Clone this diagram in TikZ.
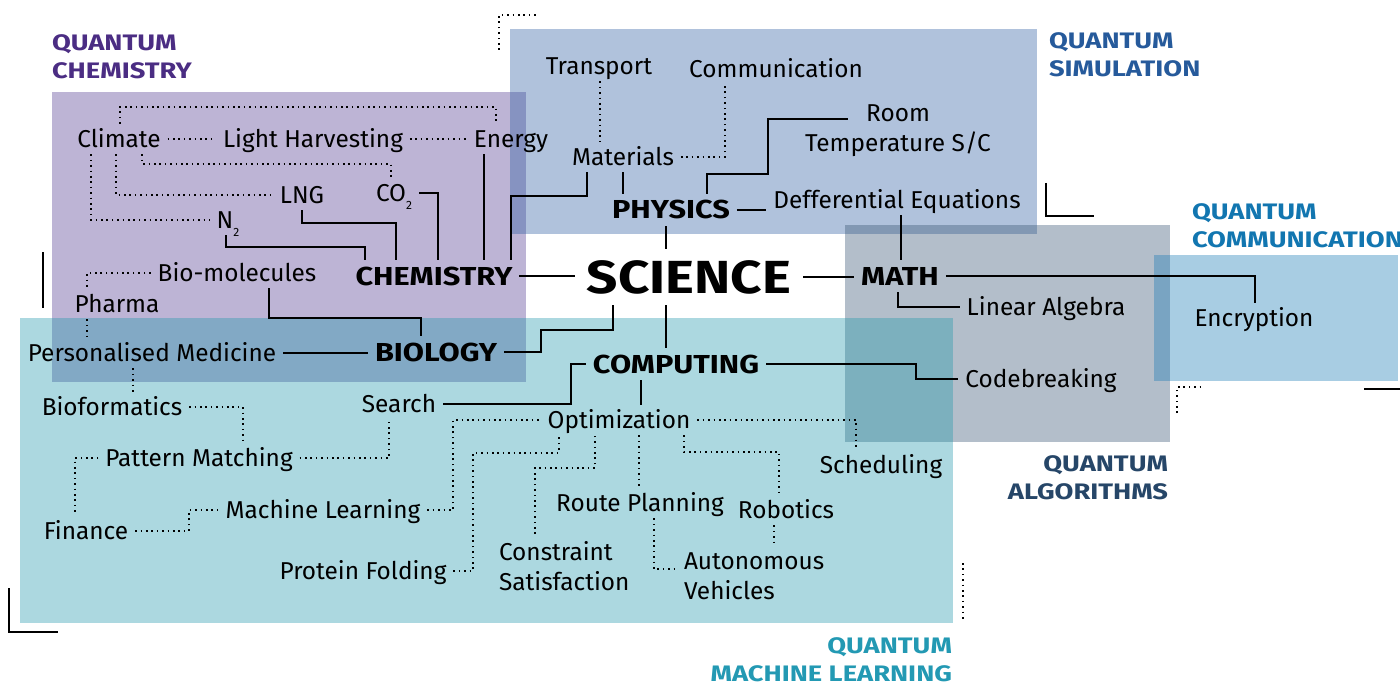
\documentclass[tikz,border=0pt]{standalone}
\usepackage{fontspec}
\setmainfont{Fira Sans}
\newfontfamily\headfont[FakeStretch=1.18]{Fira Sans}
\newfontfamily\titlefont[FakeStretch=1.22]{Fira Sans}

% zone fills
\definecolor{chemc}{RGB}{76,52,140}
\definecolor{physc}{RGB}{40,90,160}
\definecolor{mathc}{RGB}{50,80,110}
\definecolor{commc}{RGB}{20,120,180}
\definecolor{mlc}{RGB}{30,150,170}
% zone titles
\definecolor{tchem}{RGB}{75,45,131}
\definecolor{tsim}{RGB}{38,90,155}
\definecolor{tcomm}{RGB}{18,118,176}
\definecolor{talg}{RGB}{38,70,104}
\definecolor{tml}{RGB}{35,153,179}

\begin{document}
\begin{tikzpicture}[x=0.5pt,y=-0.5pt,
  conn/.style={line width=0.75pt, draw=black},
  dots/.style={line width=0.8pt, dash pattern=on 0.8pt off 1.9pt, draw=black},
  lab/.style={inner sep=0pt, outer sep=3.5pt, font=\fontsize{12.2}{15}\selectfont, text=black},
  one/.style={lab, text height=8.4pt, text depth=0pt},
  main/.style={inner sep=0pt, outer sep=3.5pt, font=\headfont\bfseries\fontsize{13}{15}\selectfont, text height=9pt, text depth=0pt, text=black},
  core/.style={inner sep=0pt, outer sep=6pt, font=\headfont\bfseries\fontsize{23.2}{26}\selectfont, text height=16pt, text depth=0pt, text=black},
  ttl/.style={inner sep=0pt, outer sep=0pt, font=\titlefont\bfseries\fontsize{11.2}{14}\selectfont},
  zone/.style={fill opacity=0.37, draw=none}
]
\useasboundingbox (0,0) rectangle (1400,684);

% coloured zones
\fill[chemc, zone] (52,92) rectangle (526,382);
\fill[physc, zone] (510,29) rectangle (1037,234);
\fill[mathc, zone] (845,225) rectangle (1170,442);
\fill[mlc, zone] (20,318) rectangle (953,623);
\fill[commc, zone] (1154,255) rectangle (1398,381);

% zone titles
\node[ttl, text=tchem, anchor=north west, align=left] (tq1) at (52,35) {QUANTUM\\CHEMISTRY};
\node[ttl, text=tsim, anchor=north west, align=left] (tq2) at (1049,33) {QUANTUM\\SIMULATION};
\node[ttl, text=tcomm, anchor=north west, align=left] (tq3) at (1192,204) {QUANTUM\\COMMUNICATION};
\node[ttl, text=talg, anchor=north east, align=right] (tq4) at (1168,456) {QUANTUM\\ALGORITHMS};
\node[ttl, text=tml, anchor=north east, align=right] (tq5) at (952,638) {QUANTUM\\MACHINE LEARNING};

% main fields
\node[core] (sci) at (689,277) {SCIENCE};
\node[main] (chem) at (434,276) {CHEMISTRY};
\node[main] (physics) at (671,210) {PHYSICS};
\node[main] (math) at (900,276) {MATH};
\node[main] (bio) at (436,352) {BIOLOGY};
\node[main] (computing) at (676,364) {COMPUTING};

% chemistry / biology topics
\node[one] (climate) at (119,139) {Climate};
\node[one] (lightharv) at (313,139) {Light Harvesting};
\node[one] (energy) at (511,139) {Energy};
\node[one] (lng) at (302,195) {LNG};
\node[one] (co2) at (394,193) {CO\raisebox{-4pt}{\fontsize{6}{6}\selectfont 2}};
\node[one] (n2) at (228,220) {N\raisebox{-4pt}{\fontsize{6}{6}\selectfont 2}};
\node[one] (biomol) at (237,273) {Bio-molecules};
\node[one] (pharma) at (117,304) {Pharma};
\node[one] (persmed) at (152,353) {Personalised Medicine};

% physics topics
\node[one] (transport) at (599,66) {Transport};
\node[one] (comm) at (776,69) {Communication};
\node[lab, anchor=north, align=center] (roomt) at (898,98) {Room\\Temperature S/C};
\coordinate (roomin) at (848,119);
\node[one] (materials) at (623,157) {Materials};
\node[one] (diffeq) at (897,200) {Defferential Equations};

% math topics
\node[one] (linalg) at (1046,307) {Linear Algebra};
\node[one] (codebreak) at (1041,379) {Codebreaking};
\node[one] (encrypt) at (1254,318) {Encryption};

% computing topics
\node[one] (search) at (399,404) {Search};
\node[one] (optim) at (619,420) {Optimization};
\node[one] (sched) at (881,465) {Scheduling};
\node[one] (route) at (640,503) {Route Planning};
\node[one] (robotics) at (786,510) {Robotics};
\node[lab, anchor=north west, align=left] (constr) at (492,534) {Constraint\\Satisfaction};
\node[lab, anchor=north west, align=left] (auton) at (677,546) {Autonomous\\Vehicles};
\node[one] (protein) at (363,571) {Protein Folding};
\node[one] (ml) at (323,510) {Machine Learning};
\node[one] (finance) at (86,531) {Finance};
\node[one] (pattern) at (199,458) {Pattern Matching};
\node[one] (bioform) at (112,407) {Bioformatics};

% solid links
\draw[conn] (chem.east) -- (sci.west |- chem.east);
\draw[conn] (sci.east) -- (math.west |- sci.east);
\draw[conn] (physics.south -| 666,0) -- (sci.north -| 666,0);
\draw[conn] (sci.south -| 666,0) -- (computing.north -| 666,0);
\draw[conn] (sci.south -| 613,0) |- (541,330) |- (bio.east);
\draw[conn] (persmed.east) -- (bio.west |- persmed.east);
\draw[conn] (biomol.south -| 269,0) |- (421,318) -- (bio.north -| 421,0);
\draw[conn] (n2.south -| 226,0) |- (365,247) -- (chem.north -| 365,0);
\draw[conn] (lng.south) |- (396,223) -- (chem.north -| 396,0);
\draw[conn] (co2.east) -| (chem.north -| 438,0);
\draw[conn] (energy.south -| 484,0) -- (chem.north -| 484,0);
\draw[conn] (materials.south -| 587,0) |- (511,196) -- (chem.north -| 511,0);
\draw[conn] (physics.north -| 623,0) -- (materials.south -| 623,0);
\draw[conn] (physics.north -| 707,0) |- (768,174) |- (roomin);
\draw[conn] (physics.east) -- (diffeq.west |- physics.east);
\draw[conn] (diffeq.south -| 901,0) -- (math.north -| 901,0);
\draw[conn] (math.south -| 898,0) |- (linalg.west);
\draw[conn] (math.east) -| (encrypt.north -| 1255,0);
\draw[conn] (computing.east) -- (916,0 |- computing.east) |- (codebreak.west);
\draw[conn] (computing.west) -- (571,0 |- computing.west) |- (search.east);
\draw[conn] (computing.south -| 641,0) -- (optim.north -| 641,0);

% dotted links
\draw[dots] (climate.north -| 120,0) |- (496,107) -- (energy.north -| 496,0);
\draw[dots] (climate.east) -- (lightharv.west);
\draw[dots] (lightharv.east) -- (energy.west);
\draw[dots] (climate.south -| 142,0) |- (391,164) -- (co2.north -| 391,0);
\draw[dots] (climate.south -| 116,0) |- (lng.west);
\draw[dots] (climate.south -| 91,0) |- (n2.west);
\draw[dots] (biomol.west) -| (pharma.north -| 87,0);
\draw[dots] (pharma.south -| 87,0) -- (persmed.north -| 87,0);
\draw[dots] (persmed.south -| 133,0) -- (bioform.north -| 133,0);
\draw[dots] (bioform.east) -| (pattern.north -| 243,0);
\draw[dots] (pattern.west) -| (finance.north -| 75,0);
\draw[dots] (finance.east) -- (189,0 |- finance.east) |- (ml.west);
\draw[dots] (pattern.east) -| (search.south -| 389,0);
\draw[dots] (ml.east) -- (453,0 |- ml.east) |- (optim.west);
\draw[dots] (protein.east) -- (473,0 |- protein.east) |- (559,453) -- (optim.south -| 559,0);
\draw[dots] (constr.north -| 535,0) |- (595,468) -- (optim.south -| 595,0);
\draw[dots] (optim.south -| 639,0) -- (route.north -| 639,0);
\draw[dots] (optim.south -| 684,0) |- (779,452) -- (robotics.north -| 779,0);
\draw[dots] (optim.east) -| (sched.north -| 856,0);
\draw[dots] (route.south -| 654,0) |- (auton.west |- 0,569);
\draw[dots] (robotics.south -| 774,0) -- (auton.north -| 774,0);
\draw[dots] (transport.south -| 600,0) -- (materials.north -| 600,0);
\draw[dots] (materials.east) -| (comm.south -| 725,0);

% corner marks
\draw[dots] (499,50) -- (499,15) -- (539,15);
\draw[conn] (43,252) -- (43,308);
\draw[conn] (1046,183) -- (1046,216) -- (1094,216);
\draw[dots] (1177,413) -- (1177,387) -- (1203,387);
\draw[conn] (1364,389) -- (1400,389);
\draw[conn] (9,588) -- (9,632) -- (58,632);
\draw[dots] (963,563) -- (963,622);
\end{tikzpicture}
\end{document}
